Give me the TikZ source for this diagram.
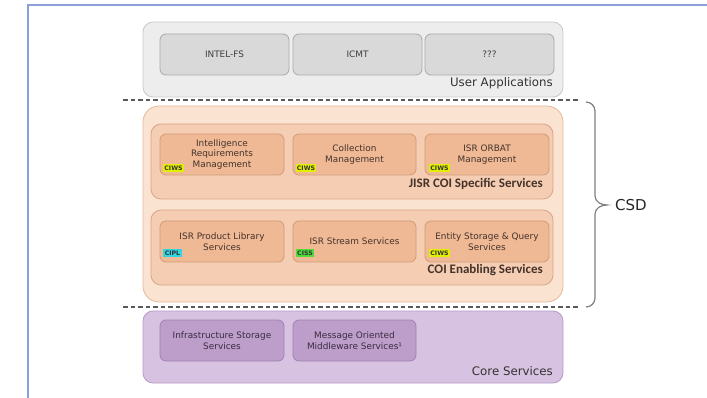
\documentclass[tikz,border=0pt]{standalone}
\usepackage{fontspec}
\setmainfont{DejaVu Sans}
\newfontfamily\labfont{Carlito}
\begin{document}
\begin{tikzpicture}[x=1pt,y=-1pt,
  every node/.style={inner sep=0pt},
  cont/.style={draw, rounded corners=#1, line width=0.8pt},
  ibox/.style={draw, rounded corners=6pt, line width=0.8pt, align=center,
    font=\fontsize{8.9}{10.8}\selectfont, minimum height=41pt},
  grayc/.style={cont=10pt, fill=uagray, draw=uagrayb},
  grayb/.style={ibox, fill=uabox, draw=uaboxb, text=uatext, minimum width=129pt},
  orgb/.style={ibox, fill=orbox, draw=orboxb, text=ortext, minimum width=124pt},
  purb/.style={ibox, fill=pubox, draw=puboxb, text=putext, minimum width=124pt},
  badge/.style={font=\fontsize{6.2}{6.2}\selectfont\bfseries, text=black!80,
    inner xsep=1.4pt, minimum height=8pt, fill=#1},
  seclab/.style={anchor=east, font=\fontsize{11.8}{12}\selectfont, text=black!80},
  jlab/.style={anchor=east, font=\labfont\bfseries\fontsize{13}{13}\selectfont, text=ortext},
  dashln/.style={draw=black!65, line width=1.3pt, dash pattern=on 4.5pt off 3pt},
  bracel/.style={draw=black!50, line width=1.2pt}
]
\definecolor{frameblue}{HTML}{8C9FDB}
\definecolor{uagray}{HTML}{EDEDED}
\definecolor{uagrayb}{HTML}{C9C9C9}
\definecolor{uabox}{HTML}{D9D9D9}
\definecolor{uaboxb}{HTML}{A9A9A9}
\definecolor{uatext}{HTML}{3E3E3E}
\definecolor{orout}{HTML}{FBE3D2}
\definecolor{oroutb}{HTML}{E6B89C}
\definecolor{ormid}{HTML}{F5CDB2}
\definecolor{ormidb}{HTML}{D8A586}
\definecolor{orbox}{HTML}{EFB995}
\definecolor{orboxb}{HTML}{D09A78}
\definecolor{ortext}{HTML}{45332A}
\definecolor{puout}{HTML}{D7C2E1}
\definecolor{puoutb}{HTML}{B89CC8}
\definecolor{pubox}{HTML}{BD9DC9}
\definecolor{puboxb}{HTML}{A083B0}
\definecolor{putext}{HTML}{3A2C42}
\definecolor{bylw}{HTML}{E2F000}
\definecolor{bcyan}{HTML}{30D4E2}
\definecolor{bgreen}{HTML}{4FDC3A}

\useasboundingbox (0,0) rectangle (707,398);
\fill[white] (0,0) rectangle (707,398);
% frame
\draw[frameblue, line width=2pt] (28,400) -- (28,5) -- (710,5);

% user applications
\node[grayc, minimum width=420pt, minimum height=75pt] (ua) at (353,59.5) {};
\node[grayb] (intelfs) at (224.5,54.5) {INTEL-FS};
\node[grayb] (icmt) at (357.5,54.5) {ICMT};
\node[grayb] (qqq) at (489.5,54.5) {???};
\node[seclab] (ualab) at (553,83) {User Applications};

% CSD area
\node[cont=16pt, fill=orout, draw=oroutb, minimum width=420pt, minimum height=196pt] (csdbox) at (353,204) {};
\node[cont=10pt, fill=ormid, draw=ormidb, minimum width=402pt, minimum height=75pt] (jisr) at (352,161.5) {};
\node[cont=10pt, fill=ormid, draw=ormidb, minimum width=402pt, minimum height=75pt] (coi) at (352,247.5) {};

\node[orgb] (irm) at (222,154.5) {Intelligence\\Requirements\\Management};
\node[orgb, minimum width=123pt] (colm) at (354.5,154.5) {Collection\\Management};
\node[orgb] (orbat) at (487,154.5) {ISR ORBAT\\Management};
\node[jlab] (jisrlab) at (543,184) {JISR COI Specific Services};

\node[orgb] (prodlib) at (222,241.5) {ISR Product Library\\Services};
\node[orgb, minimum width=123pt] (stream) at (354.5,241.5) {ISR Stream Services};
\node[orgb] (entity) at (487,241.5) {Entity Storage \& Query\\Services};
\node[jlab] (coilab) at (543,270) {COI Enabling Services};

\node[badge=bylw] (b1) at (173.5,168) {CIWS};
\node[badge=bylw] (b2) at (306,168.5) {CIWS};
\node[badge=bylw] (b3) at (439.5,168.5) {CIWS};
\node[badge=bcyan] (b4) at (172.5,253) {CIPL};
\node[badge=bgreen] (b5) at (305,253) {CISS};
\node[badge=bylw] (b6) at (439.5,253.5) {CIWS};

% core services
\node[cont=10pt, fill=puout, draw=puoutb, minimum width=420pt, minimum height=72pt] (core) at (353,347) {};
\node[purb] (infra) at (222,340.5) {Infrastructure Storage\\Services};
\node[purb, minimum width=123pt] (mom) at (354.5,340.5) {Message Oriented\\Middleware Services¹};
\node[seclab] (corelab) at (553,371) {Core Services};

% dashed separators
\coordinate (d1a) at (123,100); \coordinate (d1b) at (580,100);
\coordinate (d2a) at (123,307); \coordinate (d2b) at (580,307);
\draw[dashln] (d1a) -- (d1b);
\draw[dashln] (d2a) -- (d2b);

% brace
\coordinate (bt) at (586,102);
\coordinate (bm) at (607,205);
\coordinate (bb) at (586,307);
\draw[bracel] (bt) to[out=0,in=90] (595,111) -- (595,196) to[out=-90,in=180] (bm)
  to[out=180,in=90] (595,214) -- (595,298) to[out=-90,in=0] (bb);
\node[anchor=west, font=\fontsize{15}{15}\selectfont, text=black!85] (csd) at (615,205) {CSD};
\end{tikzpicture}
\end{document}
